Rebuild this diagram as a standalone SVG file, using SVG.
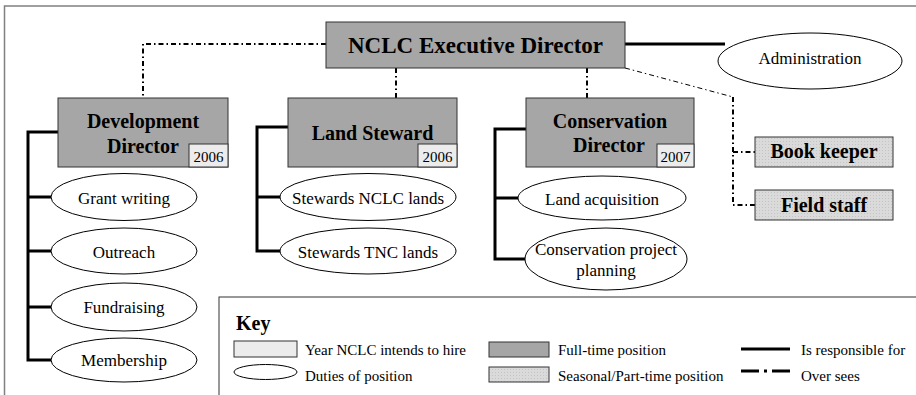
<svg xmlns="http://www.w3.org/2000/svg" width="916" height="395" viewBox="0 0 916 395">
<style>
text{font-family:"Liberation Serif","Times New Roman",serif;fill:#000}
.t{font-size:20px;font-weight:bold;text-anchor:middle}
.d{font-size:17px;text-anchor:middle}
.k{font-size:15px}
.yr{font-size:15px;text-anchor:middle}
.full{fill:#a6a6a6;stroke:#333;stroke-width:1}
.hire{fill:#ececec;stroke:#333;stroke-width:1}
.part{fill:url(#dots);stroke:#333;stroke-width:1}
.duty{fill:#fff;stroke:#000;stroke-width:1}
.resp{fill:none;stroke:#000;stroke-width:3}
.over{fill:none;stroke:#000;stroke-width:2;stroke-dasharray:5 3 1.5 3}
.thin{fill:none;stroke:#000;stroke-width:1;stroke-dasharray:5 3 1.5 3}
</style>
<defs>
<pattern id="dots" width="3" height="3" patternUnits="userSpaceOnUse">
<rect width="3" height="3" fill="#dadada"/>
<rect width="1" height="1" fill="#c4c4c4"/>
</pattern>
</defs>
<rect width="916" height="395" fill="#fff"/>
<g id="frame" fill="none" stroke="#808080" stroke-width="1.5">
<path d="M4.5 395V6H916"/>
</g>
<g id="connectors">
<path class="resp" d="M625 44H725"/>
<path class="over" d="M326 44H143V98"/>
<path class="over" d="M396 68V98"/>
<path class="over" d="M587 68V98"/>
<path class="thin" d="M625 68L733 97"/>
<path class="over" d="M733 97V205H755M733 152H755"/>
<path class="resp" d="M58 132H28V360H51M28 197H51M28 251H51M28 307H51"/>
<path class="resp" d="M288 127H257V251H281M257 197H281"/>
<path class="resp" d="M526 129H495V259H525M495 198H518"/>
</g>
<g id="exec">
<rect class="full" x="326" y="22" width="299" height="46"/>
<text class="t" x="475.5" y="53" style="font-size:23px">NCLC Executive Director</text>
</g>
<g id="admin">
<ellipse class="duty" cx="810" cy="61" rx="92" ry="28"/>
<text class="d" x="810" y="64">Administration</text>
</g>
<g id="dev">
<rect class="full" x="58" y="98" width="170" height="69"/>
<text class="t" x="143" y="128">Development</text>
<text class="t" x="143" y="153">Director</text>
<rect class="hire" x="189" y="144" width="39" height="23"/>
<text class="yr" x="208.5" y="162">2006</text>
</g>
<g id="ls">
<rect class="full" x="288" y="98" width="169" height="69"/>
<text class="t" x="372.5" y="140">Land Steward</text>
<rect class="hire" x="418" y="144" width="39" height="23"/>
<text class="yr" x="437.5" y="162">2006</text>
</g>
<g id="cons">
<rect class="full" x="526" y="98" width="168" height="69"/>
<text class="t" x="610" y="128">Conservation</text>
<text class="t" x="609" y="152">Director</text>
<rect class="hire" x="657" y="144" width="37" height="23"/>
<text class="yr" x="675.5" y="162">2007</text>
</g>
<g id="bookkeeper">
<rect class="part" x="755" y="137" width="138" height="30"/>
<text class="t" x="824" y="158">Book keeper</text>
</g>
<g id="fieldstaff">
<rect class="part" x="755" y="190" width="138" height="30"/>
<text class="t" x="824" y="212">Field staff</text>
</g>
<g id="grant"><ellipse class="duty" cx="124" cy="197" rx="73" ry="23.5"/><text class="d" x="124" y="204">Grant writing</text></g>
<g id="outreach"><ellipse class="duty" cx="124" cy="251" rx="73" ry="23"/><text class="d" x="124" y="258">Outreach</text></g>
<g id="fund"><ellipse class="duty" cx="124" cy="307" rx="73" ry="24"/><text class="d" x="124" y="313">Fundraising</text></g>
<g id="member"><ellipse class="duty" cx="124" cy="360" rx="73" ry="22"/><text class="d" x="124" y="366">Membership</text></g>
<g id="nclclands"><ellipse class="duty" cx="368" cy="197" rx="88" ry="23.5"/><text class="d" x="368" y="204">Stewards NCLC lands</text></g>
<g id="tnclands"><ellipse class="duty" cx="368" cy="251" rx="88" ry="23"/><text class="d" x="368" y="258">Stewards TNC lands</text></g>
<g id="landacq"><ellipse class="duty" cx="602" cy="198" rx="84" ry="22"/><text class="d" x="602" y="205">Land acquisition</text></g>
<g id="cpp"><ellipse class="duty" cx="606" cy="259" rx="81" ry="31"/><text class="d" x="606" y="255">Conservation project</text><text class="d" x="606" y="276">planning</text></g>
<g id="key">
<rect x="219" y="297" width="720" height="120" fill="#fff" stroke="#333" stroke-width="1"/>
<text x="236" y="330" style="font-size:20px;font-weight:bold">Key</text>
<rect class="hire" x="234" y="341" width="63" height="16"/>
<text class="k" x="305" y="355">Year NCLC intends to hire</text>
<ellipse class="duty" cx="265.5" cy="372" rx="31.5" ry="7.5"/>
<text class="k" x="305" y="381">Duties of position</text>
<rect class="full" x="489" y="342" width="60" height="15"/>
<text class="k" x="558" y="355">Full-time position</text>
<rect class="part" x="489" y="367" width="60" height="15"/>
<text class="k" x="558" y="381">Seasonal/Part-time position</text>
<path d="M741 349H790" stroke="#000" stroke-width="3"/>
<path d="M741 371H792" stroke="#000" stroke-width="3" stroke-dasharray="18 5 3 5"/>
<text class="k" x="801" y="355">Is responsible for</text>
<text class="k" x="801" y="381">Over sees</text>
</g>
</svg>
